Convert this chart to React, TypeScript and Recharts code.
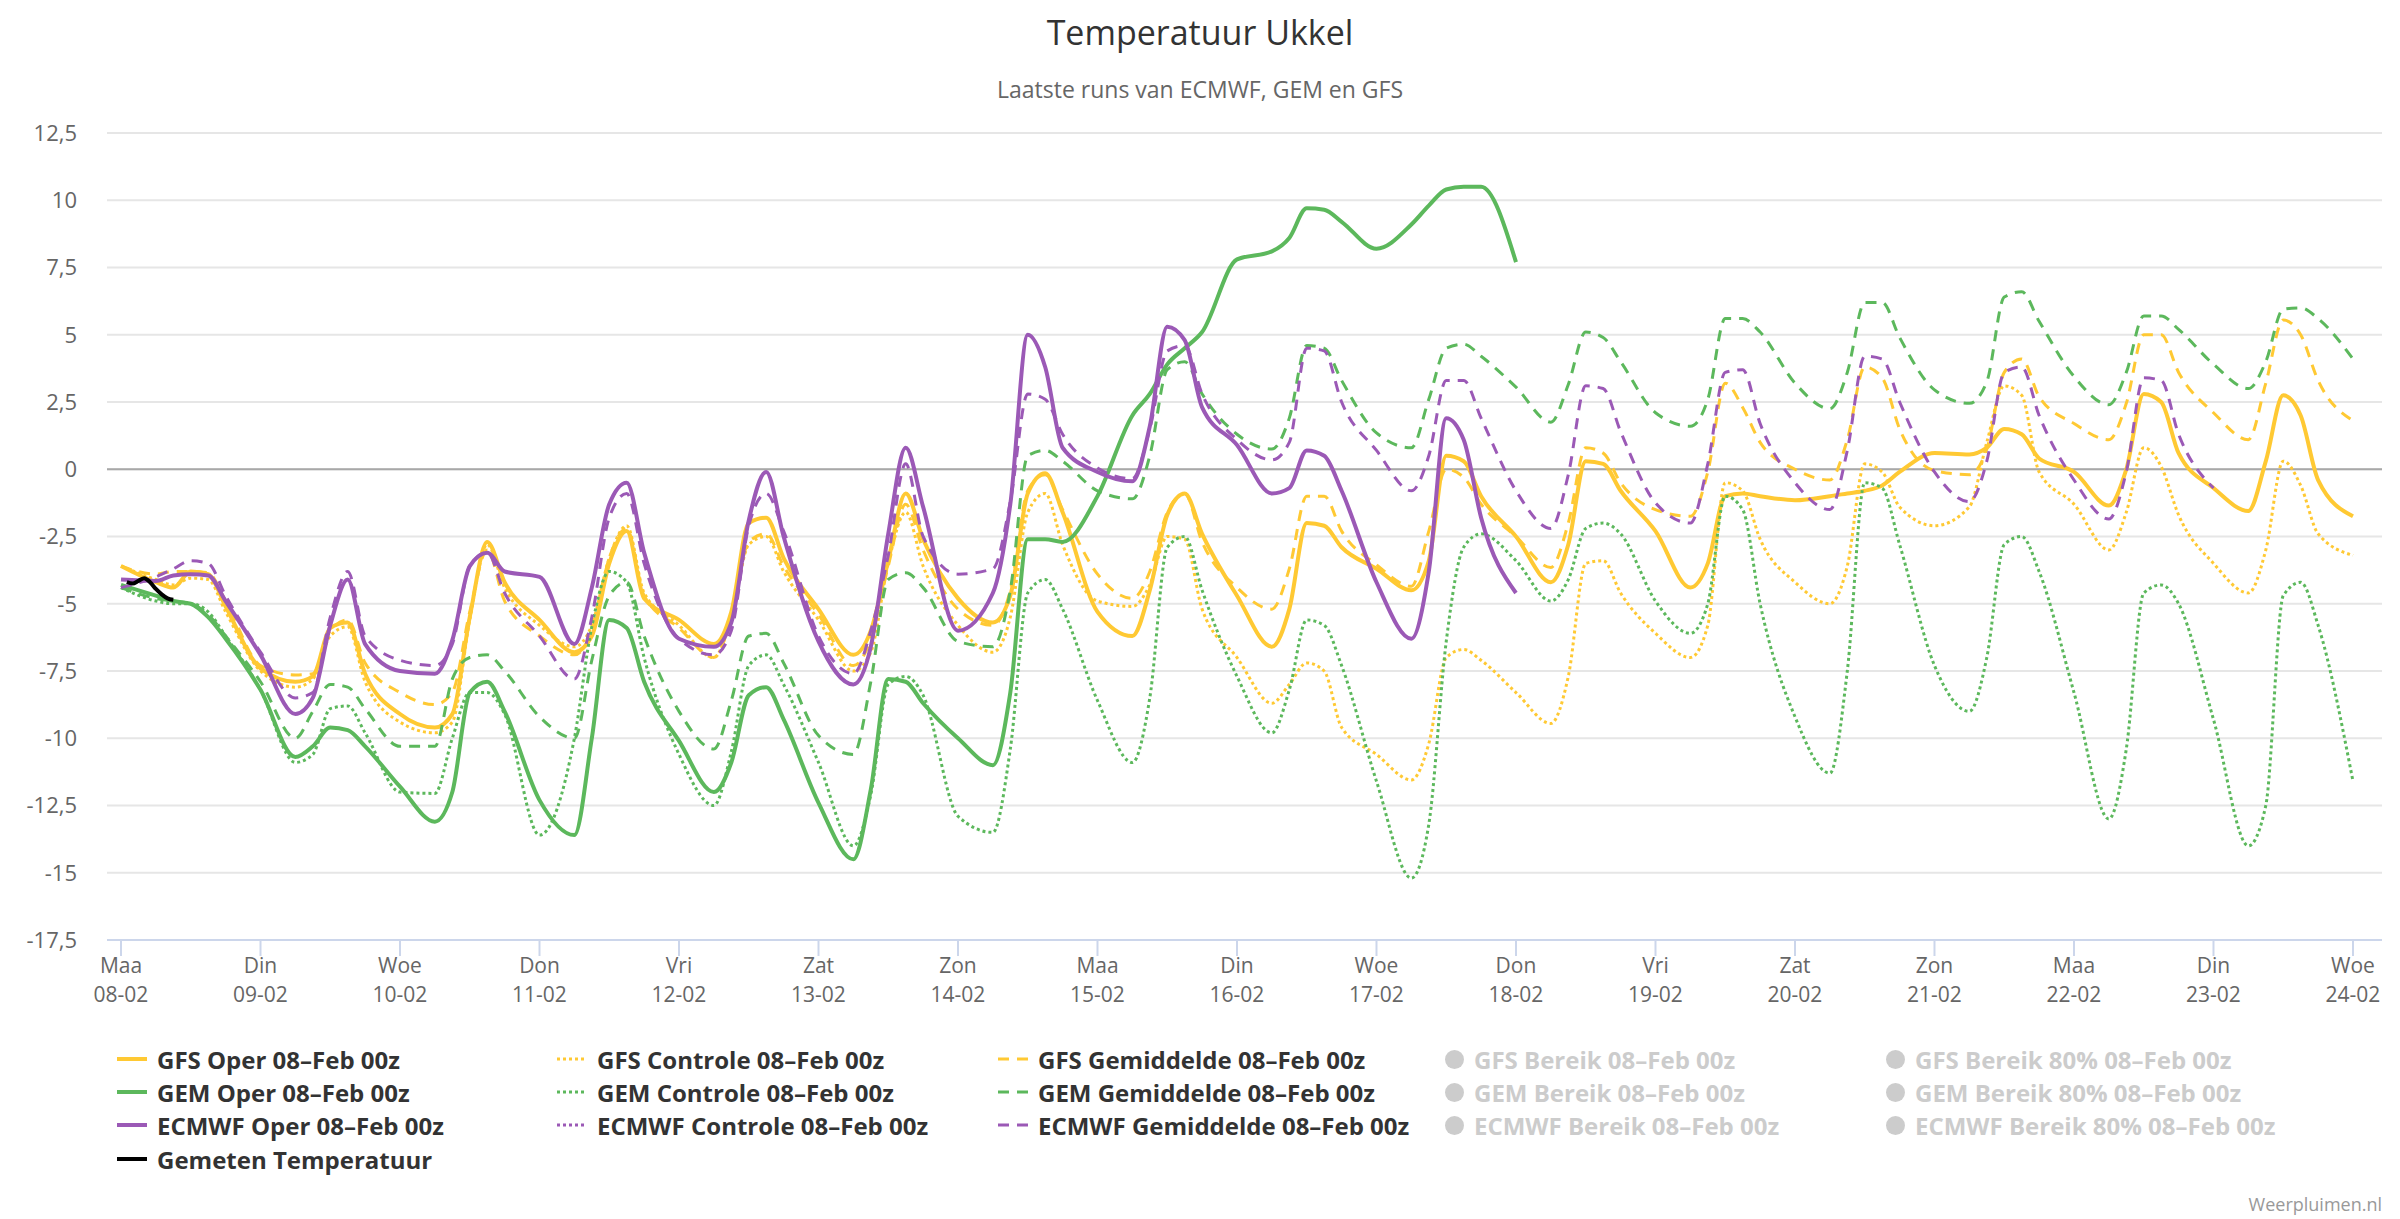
import React from 'react';
import { LineChart, Line, XAxis, YAxis, CartesianGrid, ReferenceLine } from 'recharts';

// ---- time grid (days since 08-02 00z): 00, 06, 09, 12, 15, 18 h each day ----
const HOURS = [0, 6, 9, 12, 15, 18];
const times: number[] = [];
for (let k = 0; k < 16; k++) for (const h of HOURS) times.push(k + h / 24);
times.push(16);

const dayNames = ['Maa', 'Din', 'Woe', 'Don', 'Vri', 'Zat', 'Zon', 'Maa', 'Din', 'Woe', 'Don', 'Vri', 'Zat', 'Zon', 'Maa', 'Din', 'Woe'];
const dayDates = ['08-02', '09-02', '10-02', '11-02', '12-02', '13-02', '14-02', '15-02', '16-02', '17-02', '18-02', '19-02', '20-02', '21-02', '22-02', '23-02', '24-02'];
const yTicks = [-17.5, -15, -12.5, -10, -7.5, -5, -2.5, 0, 2.5, 5, 7.5, 10, 12.5];

const gfsOper = [
  -3.6, -4.2, -4.4, -3.8, -3.9, -5.1,
  -7.4, -7.9, -7.7, -5.9, -5.7, -7.6,
  -9.1, -9.6, -9.1, -5.5, -2.7, -4.2,
  -5.6, -6.8, -6.2, -3.5, -2.3, -4.8,
  -5.6, -6.5, -5.3, -2.0, -1.8, -3.3,
  -5.2, -6.9, -6.0, -3.4, -0.9, -2.6,
  -4.8, -5.7, -4.7, -0.9, -0.15, -1.6,
  -5.3, -6.2, -4.5, -1.7, -0.9, -2.4,
  -4.7, -6.6, -5.2, -2.0, -2.1, -2.9,
  -3.7, -4.5, -3.4, 0.5, 0.3, -1.0,
  -2.5, -4.2, -2.8, 0.3, 0.2, -0.8,
  -2.3, -4.4, -3.5, -1.0, -0.9, -1.0,
  -1.15, -1.0, -0.9, -0.8, -0.6, -0.1,
  0.6, 0.55, 0.8, 1.5, 1.3, 0.4,
  -0.1, -1.35, 0.0, 2.8, 2.5, 0.6,
  -0.7, -1.55, 0.3, 2.75, 2.0, -0.4,
  -1.75,
];
const gfsCtrl = [
  -3.6, -4.1, -4.3, -4.05, -4.1, -5.3,
  -7.5, -8.1, -7.8, -6.2, -5.85, -7.9,
  -9.4, -9.8, -9.4, -5.6, -2.8, -4.4,
  -5.8, -6.6, -5.8, -3.3, -2.1, -4.6,
  -5.8, -7.0, -5.5, -2.8, -2.5, -3.8,
  -5.6, -7.5, -6.8, -3.5, -1.6, -3.6,
  -5.8, -6.8, -5.5, -1.6, -0.9, -2.8,
  -4.9, -5.1, -4.3, -2.5, -2.6, -5.2,
  -7.0, -8.7, -8.0, -7.2, -7.5, -9.6,
  -10.6, -11.55, -10.2, -7.0, -6.7, -7.1,
  -8.3, -9.45, -7.7, -3.5, -3.4, -4.6,
  -6.1, -7.0, -5.8, -0.5, -0.8, -2.6,
  -4.2, -5.0, -3.6, 0.2, -0.1, -1.4,
  -2.1, -1.4, 1.0, 3.1, 2.75, -0.1,
  -1.3, -3.0, -1.6, 0.8, 0.1, -1.7,
  -3.5, -4.6, -3.0, 0.3, -0.6, -2.4,
  -3.2,
];
const gfsMean = [
  -3.6, -3.9, -3.8, -3.8, -3.85, -4.9,
  -7.3, -7.65, -7.6, -6.0, -5.6, -7.2,
  -8.3, -8.75, -8.3, -5.3, -3.0, -4.9,
  -6.2, -6.9, -6.0, -3.3, -2.2, -4.7,
  -5.9, -7.0, -5.5, -2.7, -2.4, -3.6,
  -5.4, -7.3, -6.3, -3.6, -1.3, -3.0,
  -5.2, -5.8, -4.5, -0.8, -0.2, -1.5,
  -3.9, -4.8, -3.8, -1.6, -0.9, -2.7,
  -4.4, -5.2, -3.7, -1.0, -1.0, -2.3,
  -3.55, -4.35, -2.3, 0.0, -0.3, -1.3,
  -2.5, -3.65, -2.0, 0.8, 0.6, -0.5,
  -1.5, -1.75, -0.1, 3.2, 2.3, 1.0,
  0.0, -0.4, 1.1, 3.8, 3.4, 1.5,
  -0.05, -0.2, 0.75, 3.6, 4.1, 2.7,
  1.7, 1.1, 2.45, 5.0, 5.0, 3.6,
  2.1, 1.1, 3.2, 5.55, 5.0, 3.3,
  1.8,
];
const gemOper = [
  -4.3, -4.7, -4.9, -5.0, -5.5, -6.3,
  -8.2, -10.7, -10.3, -9.6, -9.7, -10.3,
  -11.8, -13.1, -12.0, -8.3, -7.9, -9.0,
  -12.3, -13.6, -10.0, -5.6, -5.9, -7.9,
  -10.1, -12.0, -10.9, -8.4, -8.1, -9.3,
  -12.4, -14.5, -11.9, -7.8, -7.9, -8.7,
  -10.0, -11.0, -8.3, -2.6, -2.6, -2.7,
  -1.0, 2.0, 2.8, 3.9, 4.5, 5.1,
  7.8, 8.1, 8.6, 9.7, 9.65, 9.2,
  8.2, 9.1, 9.8, 10.4, 10.5, 10.5,
  7.7,
];
const gemCtrl = [
  -4.4, -4.9, -5.0, -5.0, -5.3, -6.2,
  -8.2, -10.9, -10.6, -8.9, -8.8, -9.8,
  -12.0, -12.05, -10.0, -8.3, -8.3, -9.1,
  -13.6, -10.0, -5.85, -3.8, -4.2, -7.0,
  -10.6, -12.5, -10.5, -7.3, -6.9, -8.0,
  -10.9, -14.0, -12.1, -8.0, -7.7, -8.4,
  -12.9, -13.5, -10.4, -4.6, -4.1, -5.2,
  -8.6, -10.9, -8.5, -2.9, -2.5, -4.5,
  -7.7, -9.8, -8.2, -5.6, -5.8, -7.3,
  -11.6, -15.2, -13.2, -6.4, -2.9, -2.4,
  -3.4, -4.9, -4.1, -2.2, -2.0, -2.4,
  -4.9, -6.1, -5.0, -1.0, -1.5, -5.0,
  -9.2, -11.3, -7.5, -0.5, -0.7, -2.8,
  -7.3, -9.0, -7.0, -2.8, -2.5, -3.8,
  -8.3, -13.0, -10.4, -4.6, -4.3, -5.0,
  -9.3, -14.0, -12.5, -4.7, -4.2, -5.8,
  -11.6,
];
const gemMean = [
  -4.4, -4.8, -4.9, -5.0, -5.4, -6.2,
  -7.9, -10.0, -9.0, -8.0, -8.1, -8.9,
  -10.3, -10.3, -7.8, -7.0, -6.9, -7.5,
  -9.2, -10.0, -7.1, -4.7, -4.2, -6.2,
  -9.0, -10.4, -8.6, -6.2, -6.1, -7.2,
  -9.9, -10.6, -7.9, -4.1, -3.85, -4.4,
  -6.4, -6.6, -4.5, 0.5, 0.7, 0.3,
  -0.8, -1.1, 0.5, 3.7, 4.0, 2.8,
  1.3, 0.75, 1.9, 4.6, 4.5, 3.3,
  1.35, 0.8, 2.6, 4.5, 4.65, 4.2,
  3.05, 1.75, 3.15, 5.1, 4.9, 4.0,
  2.1, 1.6, 2.6, 5.6, 5.6, 5.1,
  3.2, 2.25, 3.6, 6.2, 6.2, 4.9,
  2.95, 2.45, 3.25, 6.4, 6.6, 5.5,
  3.45, 2.4, 3.6, 5.7, 5.7, 5.2,
  3.9, 3.0, 4.0, 5.95, 6.0, 5.6,
  4.1,
];
const ecmwfOper = [
  -4.1, -4.15, -3.95, -3.9, -3.95, -4.9,
  -6.9, -9.1, -8.5, -5.8, -4.1, -6.5,
  -7.5, -7.6, -6.35, -3.6, -3.1, -3.8,
  -4.0, -6.5, -4.4, -1.3, -0.5, -3.1,
  -6.3, -6.6, -5.7, -1.9, -0.1, -2.5,
  -6.4, -8.0, -6.6, -2.4, 0.8, -1.4,
  -6.0, -4.6, -1.3, 5.0, 3.8, 0.8,
  -0.1, -0.45, 1.6, 5.3, 4.8, 2.3,
  0.9, -0.9, -0.7, 0.7, 0.5, -0.8,
  -4.2, -6.3, -3.8, 1.9, 1.1, -1.8,
  -4.6,
];
const ecmwfCtrl: number[] = [];
const ecmwfMean = [
  -4.4, -4.0, -3.7, -3.4, -3.5, -4.7,
  -6.8, -8.5, -8.3, -5.5, -3.8, -6.2,
  -7.1, -7.3, -6.5, -3.6, -3.1, -4.6,
  -6.2, -7.8, -5.5, -1.8, -0.9, -3.5,
  -6.3, -6.9, -6.0, -2.1, -0.9, -2.3,
  -6.2, -7.6, -6.0, -3.2, 0.2, -2.5,
  -3.9, -3.7, -1.2, 2.8, 2.6, 1.3,
  0.05, -0.35, 1.5, 4.4, 4.6, 2.8,
  1.1, 0.35, 1.0, 4.5, 4.4, 2.5,
  0.7, -0.8, 0.5, 3.3, 3.3, 1.9,
  -0.8, -2.2, -0.2, 3.1, 3.0, 1.4,
  -1.25, -2.0, 0.2, 3.6, 3.7, 1.7,
  -0.5, -1.5, 0.7, 4.2, 4.1, 2.5,
  -0.1, -1.2, 0.3, 3.6, 3.8, 2.0,
  -0.4, -1.85, -0.1, 3.4, 3.3, 1.3,
  -0.7,
];
// measured temperature, hourly from 01z
const measuredHours = [1, 2, 3, 4, 5, 6, 7, 8, 9];
const measured = [-4.2, -4.25, -4.15, -4.05, -4.2, -4.45, -4.65, -4.8, -4.85];

const YELLOW = '#FFC933';
const GREEN = '#5CB85C';
const PURPLE = '#9B59B6';
const HIDDEN = '#cccccc';
const DASH = '11 8';
const DOT = '3 3';

type S = { key: string; name: string; color: string; width: number; dash?: string; values: number[] };
const models: S[] = [
  { key: 'gfsOper', name: 'GFS Oper 08–Feb 00z', color: YELLOW, width: 4, values: gfsOper },
  { key: 'gfsCtrl', name: 'GFS Controle 08–Feb 00z', color: YELLOW, width: 3, dash: DOT, values: gfsCtrl },
  { key: 'gfsMean', name: 'GFS Gemiddelde 08–Feb 00z', color: YELLOW, width: 3, dash: DASH, values: gfsMean },
  { key: 'gemOper', name: 'GEM Oper 08–Feb 00z', color: GREEN, width: 4, values: gemOper },
  { key: 'gemCtrl', name: 'GEM Controle 08–Feb 00z', color: GREEN, width: 3, dash: DOT, values: gemCtrl },
  { key: 'gemMean', name: 'GEM Gemiddelde 08–Feb 00z', color: GREEN, width: 3, dash: DASH, values: gemMean },
  { key: 'ecmwfOper', name: 'ECMWF Oper 08–Feb 00z', color: PURPLE, width: 4, values: ecmwfOper },
  { key: 'ecmwfCtrl', name: 'ECMWF Controle 08–Feb 00z', color: PURPLE, width: 3, dash: DOT, values: ecmwfCtrl },
  { key: 'ecmwfMean', name: 'ECMWF Gemiddelde 08–Feb 00z', color: PURPLE, width: 3, dash: DASH, values: ecmwfMean },
];
const hiddenNames = [
  ['GFS Bereik 08–Feb 00z', 'GFS Bereik 80% 08–Feb 00z'],
  ['GEM Bereik 08–Feb 00z', 'GEM Bereik 80% 08–Feb 00z'],
  ['ECMWF Bereik 08–Feb 00z', 'ECMWF Bereik 80% 08–Feb 00z'],
];

const rows = times.map((t, i) => {
  const r: Record<string, number | null> = { t };
  for (const s of models) r[s.key] = i < s.values.length ? s.values[i] : null;
  return r;
});
const measuredRows = measuredHours.map((h, i) => ({ t: h / 24, measured: measured[i] }));

const FONT = '"Open Sans", "DejaVu Sans", sans-serif';

const XTick = (props: any) => {
  const { x, y, payload } = props;
  const i = Math.round(payload.value);
  return (
    <g>
      <text x={x} y={y + 9} textAnchor="middle" dominantBaseline="central" fontSize={21} fill="#666" fontFamily={FONT}>{dayNames[i]}</text>
      <text x={x} y={y + 38} textAnchor="middle" dominantBaseline="central" fontSize={21} fill="#666" fontFamily={FONT}>{dayDates[i]}</text>
    </g>
  );
};

const LegendSymbol = ({ color, dash }: { color: string; dash?: string }) => (
  <svg width={30} height={12} style={{ display: 'block' }}>
    <line x1={0} y1={6} x2={30} y2={6} stroke={color} strokeWidth={dash ? 3 : 4} strokeDasharray={dash} />
  </svg>
);

const legendCols = [117, 557, 998];
const legendRows = [1059, 1092, 1125, 1159];
const hiddenCols = [1454, 1895];
const LEGEND_FS = 24;

export default function App() {
  return (
    <div style={{ position: 'absolute', left: 0, top: 0, width: 2400, height: 1219, background: '#fff', fontFamily: FONT, overflow: 'hidden' }}>
      <div style={{ position: 'absolute', left: 0, width: 2400, top: 10, textAlign: 'center', fontSize: 34, color: '#333', lineHeight: '44px' }}>Temperatuur Ukkel</div>
      <div style={{ position: 'absolute', left: 0, width: 2400, top: 74, textAlign: 'center', fontSize: 23, color: '#666', lineHeight: '30px' }}>Laatste runs van ECMWF, GEM en GFS</div>
      <div style={{ position: 'absolute', left: 0, top: 0 }}>
        <LineChart width={2400} height={1219} data={rows} margin={{ top: 133, right: 18, left: 0, bottom: 219 }}>
          <CartesianGrid horizontal vertical={false} stroke="#e6e6e6" strokeWidth={1.8} />
          <XAxis type="number" dataKey="t" domain={[-0.1004, 16.208]} allowDataOverflow ticks={dayDates.map((_, i) => i)} interval={0}
            height={60} tickSize={16} tickMargin={0} tickLine={{ stroke: '#ccd6eb', strokeWidth: 2 }} axisLine={{ stroke: '#ccd6eb', strokeWidth: 2 }} tick={<XTick />} />
          <YAxis type="number" domain={[-17.5, 12.5]} ticks={yTicks} interval={0} width={107} tickSize={30} tickMargin={0} tickLine={false} axisLine={false}
            tick={{ fill: '#666', fontSize: 22, fontFamily: FONT }} tickFormatter={(v: number) => String(v).replace('.', ',')} />
          <ReferenceLine y={0} stroke="#a8a8a8" strokeWidth={2} />
          {models.map((s) => (
            <Line key={s.key} dataKey={s.key} name={s.name} type="monotone" stroke={s.color} strokeWidth={s.width} strokeDasharray={s.dash}
              dot={false} activeDot={false} isAnimationActive={false} connectNulls={false} />
          ))}
          <Line data={measuredRows} dataKey="measured" name="Gemeten Temperatuur" type="monotone" stroke="#000" strokeWidth={4} dot={false} activeDot={false} isAnimationActive={false} />
        </LineChart>
      </div>
      {models.map((s, i) => {
        const row = Math.floor(i / 3);
        const col = i % 3;
        return (
          <div key={s.key} style={{ position: 'absolute', left: legendCols[col], top: legendRows[row] - 16, height: 32, display: 'flex', alignItems: 'center', whiteSpace: 'nowrap' }}>
            <LegendSymbol color={s.color} dash={s.dash} />
            <span style={{ marginLeft: 10, fontSize: LEGEND_FS, fontWeight: 700, color: '#333' }}>{s.name}</span>
          </div>
        );
      })}
      <div style={{ position: 'absolute', left: legendCols[0], top: legendRows[3] - 16, height: 32, display: 'flex', alignItems: 'center', whiteSpace: 'nowrap' }}>
        <LegendSymbol color="#000" />
        <span style={{ marginLeft: 10, fontSize: LEGEND_FS, fontWeight: 700, color: '#333' }}>Gemeten Temperatuur</span>
      </div>
      {hiddenNames.map((pair, r) => pair.map((name, c) => (
        <div key={name} style={{ position: 'absolute', left: hiddenCols[c] - 9, top: legendRows[r] - 16, height: 32, display: 'flex', alignItems: 'center', whiteSpace: 'nowrap' }}>
          <span style={{ display: 'inline-block', width: 19, height: 19, borderRadius: 10, background: HIDDEN }} />
          <span style={{ marginLeft: 10, fontSize: LEGEND_FS, fontWeight: 700, color: HIDDEN }}>{name}</span>
        </div>
      )))}
      <div style={{ position: 'absolute', right: 18, top: 1192, fontSize: 18, color: '#999' }}>Weerpluimen.nl</div>
    </div>
  );
}
